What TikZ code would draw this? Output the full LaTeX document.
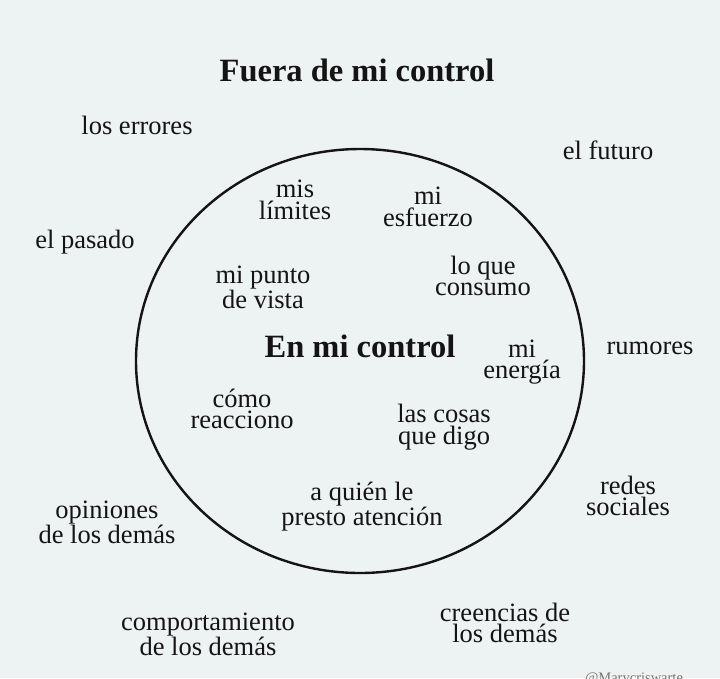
\documentclass[tikz,border=0pt]{standalone}
\usepackage{fontspec}
\setmainfont{Liberation Serif}
\definecolor{bgc}{HTML}{EDF2F2}
\definecolor{ink}{HTML}{141414}
\begin{document}
\begin{tikzpicture}[x=1pt,y=-1pt,
  txt/.style={align=center,inner sep=0pt,text=ink,font=\fontsize{26.5}{21.5}\selectfont},
  head/.style={align=center,inner sep=0pt,text=ink,font=\fontsize{32.5}{33}\selectfont\bfseries}]
\clip (0,0) rectangle (720,678);
\fill[bgc] (0,0) rectangle (720,678);
\useasboundingbox (0,0) rectangle (720,678);
\draw[ink,line width=2.4pt] (360,361) ellipse [x radius=224, y radius=212];
\node[head] (outer) at (357,70) {Fuera de mi control};
\node[head] (inner) at (360,346) {En mi control};
% outside
\node[txt] (errores) at (137,125) {los errores};
\node[txt] (futuro) at (608,150) {el futuro};
\node[txt] (pasado) at (85,242) {el pasado};
\node[txt] (rumores) at (650,348) {rumores};
\node[txt] (redes) at (628,496) {redes\\sociales};
\node[txt] (opiniones) at (107,522) {opiniones\\de los demás};
\node[txt] (comport) at (208,634) {comportamiento\\de los demás};
\node[txt] (creencias) at (505,623) {creencias de\\los demás};
% inside
\node[txt] (limites) at (295,200) {mis\\límites};
\node[txt] (esfuerzo) at (428,207) {mi\\esfuerzo};
\node[txt] (punto) at (263,287) {mi punto\\de vista};
\node[txt] (consumo) at (483,276) {lo que\\consumo};
\node[txt] (energia) at (522,362) {mi\\energía};
\node[txt] (reacciono) at (242,409) {cómo\\reacciono};
\node[txt] (cosas) at (444,427) {las cosas\\que digo};
\node[txt] (atencion) at (362,507) {a quién le\\presto atención};
\node[anchor=base,inner sep=0pt,text=black!55,font=\fontsize{14.5}{14.5}\selectfont] (mark) at (634,682) {@Marycriswarte};
\end{tikzpicture}
\end{document}
